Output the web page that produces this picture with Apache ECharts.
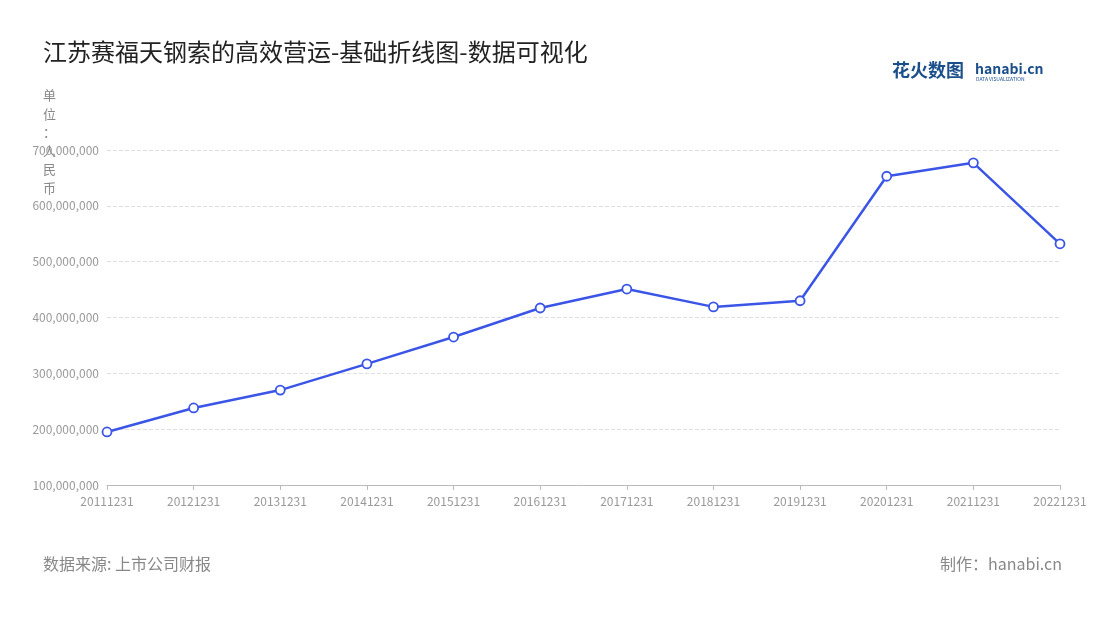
<!DOCTYPE html>
<html><head><meta charset="utf-8">
<script src="https://cdn.jsdelivr.net/npm/echarts@6/dist/echarts.min.js"></script>
<style>html,body{margin:0;padding:0;background:#fff}#c{width:1100px;height:620px}</style>
</head><body><div id="c"></div>
<script>
const categories = ['20111231','20121231','20131231','20141231','20151231','20161231','20171231','20181231','20191231','20201231','20211231','20221231'];
const values = [195000000,238000000,270000000,317000000,365000000,417000000,451000000,419000000,430000000,653000000,677000000,532000000];
const chart = echarts.init(document.getElementById('c'));
const font = '"Noto Sans CJK SC","Noto Sans",sans-serif';
chart.setOption({
  backgroundColor:'#fff',
  title:{text:'江苏赛福天钢索的高效营运-基础折线图-数据可视化',left:38,top:35,textStyle:{fontSize:24,fontWeight:'normal',color:'#222',fontFamily:font}},
  graphic:[
    {type:'text',left:43,top:86,style:{text:'单\n位\n：\n人\n民\n币',fill:'#888',font:'13px '+font,lineHeight:18.5}},
    {type:'text',left:43,top:556,style:{text:'数据来源: 上市公司财报',fill:'#888',font:'16px '+font}},
    {type:'text',right:38,top:556,style:{text:'制作：hanabi.cn',fill:'#888',font:'16px '+font}},
    {type:'text',left:892,top:61,style:{text:'花火数图',fill:'#1b4f8a',font:'bold 18px '+font}},
    {type:'text',left:975,top:62,style:{text:'hanabi.cn',fill:'#1b4f8a',font:'bold 14px '+font}},
    {type:'text',left:976,top:77,style:{text:'DATA VISUALIZATION',fill:'#1b4f8a',font:'5px '+font}}
  ],
  grid:{left:107,right:40,top:150,bottom:135},
  xAxis:{type:'category',data:categories,boundaryGap:false,
    axisLine:{lineStyle:{color:'#bbb'}},axisTick:{show:true,lineStyle:{color:'#bbb'}},
    axisLabel:{color:'#999',fontSize:12,margin:10,fontFamily:font}},
  yAxis:{type:'value',min:100000000,max:700000000,interval:100000000,
    axisLine:{show:false},axisTick:{show:false},
    splitLine:{lineStyle:{type:'dashed',color:'#e0e0e0'}},
    axisLabel:{color:'#999',fontSize:12,fontFamily:font,formatter:v=>v.toLocaleString('en-US')}},
  series:[{type:'line',data:values,symbol:'circle',symbolSize:9,
    lineStyle:{color:'#3b55e6',width:2.5},
    itemStyle:{color:'#fff',borderColor:'#3b55e6',borderWidth:1.8}}]
});
</script></body></html>
